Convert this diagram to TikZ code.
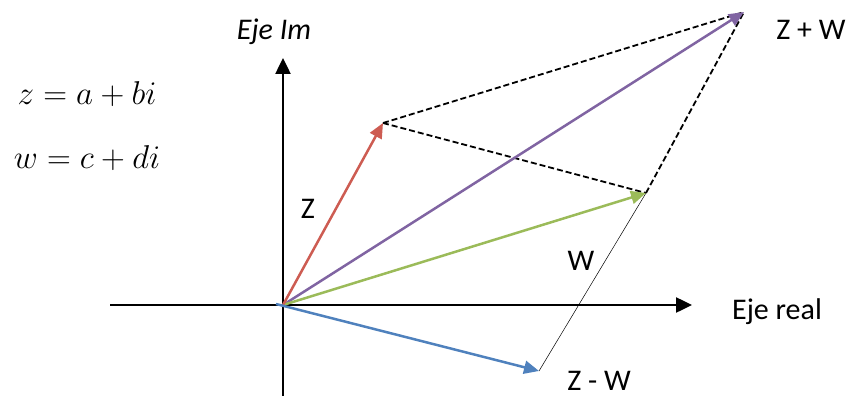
\documentclass[tikz,border=0pt]{standalone}
\usepackage{fix-cm}
\usepackage{fontspec}
\setmainfont{Carlito}
\usetikzlibrary{arrows.meta}
\definecolor{cz}{RGB}{205,92,82}
\definecolor{cw}{RGB}{155,187,89}
\definecolor{cs}{RGB}{128,100,162}
\definecolor{cd}{RGB}{79,129,189}
\tikzset{
  axis/.style={line width=2.5pt,-{Triangle[length=16pt,width=15pt]}},
  vec/.style={line width=2.5pt,-{Triangle[length=15pt,width=13pt]}},
  guide/.style={line width=1.8pt,dash pattern=on 6pt off 3pt},
  thinline/.style={line width=0.5pt},
  lbl/.style={anchor=base,inner sep=0pt,font=\fontsize{30}{36}\selectfont},
  mathlbl/.style={anchor=base,inner sep=0pt,font=\fontsize{33}{40}\selectfont},
}
\begin{document}
\begin{tikzpicture}[x=1pt,y=-1pt]
\useasboundingbox (0,0) rectangle (852,396);
\coordinate (O) at (283,305);
\coordinate (Z) at (383,123);
\coordinate (W) at (646,193);
\coordinate (S) at (744,12);
\coordinate (D) at (539,371);
\coordinate (D0) at (276,304);
\coordinate (yb) at (283,396);
\coordinate (yt) at (283,58);
\coordinate (xl) at (110,305);
\coordinate (xr) at (692,305);
\draw[axis] (yb) -- (yt);
\draw[axis] (xl) -- (xr);
\draw[guide] (Z) -- (S);
\draw[guide] (Z) -- (W);
\draw[guide] (W) -- (S);
\draw[thinline] (W) -- (D);
\draw[vec,cs] (O) -- (S);
\draw[vec,cw] (O) -- (W);
\draw[vec,cz] (O) -- (Z);
\draw[vec,cd] (D0) -- (D);
\node[lbl,font=\fontsize{30}{36}\selectfont\itshape] (lim) at (274,40) {Eje Im};
\node[lbl] (lre) at (777,319) {Eje real};
\node[lbl] (lsum) at (811,40) {Z + W};
\node[lbl] (lz) at (308,218) {Z};
\node[lbl] (lw) at (581,270) {W};
\node[lbl] (ldif) at (599,390) {Z - W};
\node[mathlbl] (ez) at (87,104) {$z=a+bi$};
\node[mathlbl] (ew) at (87,168) {$w=c+di$};
\end{tikzpicture}
\end{document}
